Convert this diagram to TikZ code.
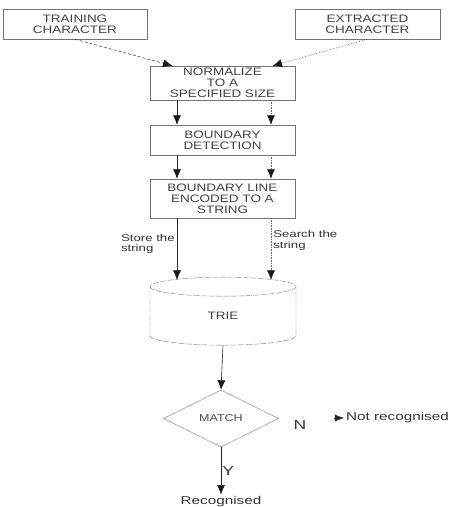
\documentclass[tikz,border=0pt]{standalone}
\usepackage{fontspec}
\setmainfont{Liberation Sans}
\newfontfamily\boxfont[FakeStretch=1.25]{Liberation Sans}
\newfontfamily\lblfont[FakeStretch=1.35]{Liberation Sans}
\usepackage{tikz}
\usetikzlibrary{arrows.meta, positioning, shapes.geometric, calc}
\tikzset{
  blk/.style ={rectangle, draw=black!55, align=center, inner sep=0pt, minimum width=145pt,
               text=black!75, font=\boxfont\fontsize{10.8}{11}\selectfont},
  db/.style  ={cylinder, shape border rotate=90, aspect=0.62, draw=black!50,
               dash pattern=on 6pt off 1.5pt,
               minimum width=146pt, minimum height=68pt, inner sep=0pt,
               text=black!75, font=\boxfont\fontsize{10.8}{11}\selectfont},
  dec/.style ={diamond, draw=black!50, aspect=2, inner sep=0pt, minimum width=115pt,
               minimum height=57pt, text=black!70, font=\boxfont\fontsize{10}{11}\selectfont},
  lbl/.style ={align=left, text=black!80, inner sep=2pt, font=\lblfont\fontsize{9.8}{10.5}\selectfont},
  fl/.style  ={-{Latex[length=9.5pt, width=8pt, black!90]}, black!85, line width=0.6pt},
  fld/.style ={fl, densely dotted, black!60},
  fls/.style ={fl, dash pattern=on 3pt off 2pt, black!70},
}

\begin{document}
\begin{tikzpicture}[x=1pt, y=-1pt]
  \useasboundingbox (0,0) rectangle (453,507);
  \node[blk, minimum width=144pt, minimum height=30pt] (train) at (75,24) {TRAINING\\CHARACTER};
  \node[blk, minimum height=30pt] (extr) at (367.5,24) {EXTRACTED\\CHARACTER};
  \node[blk, minimum height=34pt] (norm) at (222.5,83) {NORMALIZE\\TO A\\SPECIFIED SIZE};
  \node[blk, minimum height=30pt] (detect) at (222.5,140) {BOUNDARY\\DETECTION};
  \node[blk, minimum height=39pt] (enc) at (222.5,198.5) {BOUNDARY LINE\\ENCODED TO A\\STRING};
  \node[db] (trie) at (223,316) {TRIE};
  \node[dec] (match) at (221,418.5) {MATCH};
  \node[text=black!80, font=\lblfont\fontsize{13}{13}\selectfont] (no) at (300,425) {N};
  \node[lbl, anchor=west, font=\lblfont\fontsize{11.3}{12}\selectfont] (nrec) at (344,418) {Not recognised};
  \coordinate (nrtail) at (334,418);
  \node[lbl, font=\lblfont\fontsize{11.3}{12}\selectfont] (rec) at (221,502) {Recognised};

  % inputs
  \draw[fls] (train.south) -- ($(norm.north)+(-50,0)$);
  \draw[fld] (extr.south) -- ($(norm.north)+(50,0)$);

  % training path (left) and search path (right)
  \draw[fl]  ($(norm.south)+(-45.5,0)$) -- ($(detect.north)+(-45.5,0)$);
  \draw[fld] ($(norm.south)+(48.5,0)$) -- ($(detect.north)+(48.5,0)$);
  \draw[fl]  ($(detect.south)+(-45.5,0)$) -- ($(enc.north)+(-45.5,0)$);
  \draw[fld] ($(detect.south)+(48.5,0)$) -- ($(enc.north)+(48.5,0)$);
  \draw[fl]  ($(enc.south)+(-45.5,0)$) -- node[lbl, left, pos=0.42]{Store the\\string} ($(trie.north)+(-46,3)$);
  \draw[fld] ($(enc.south)+(48.5,0)$) -- node[lbl, right, pos=0.36]{Search the\\string} ($(trie.north)+(48,3)$);

  \draw[fl] (trie.bottom) -- (match.north);
  \draw[fl] (match.south) -- node[right, inner sep=1pt, text=black!80, font=\lblfont\fontsize{13}{13}\selectfont]{Y} (rec.north);
  \draw[-{Latex[length=9pt, width=7pt]}, black!85] (nrtail) -- (nrec.west);
\end{tikzpicture}
\end{document}
